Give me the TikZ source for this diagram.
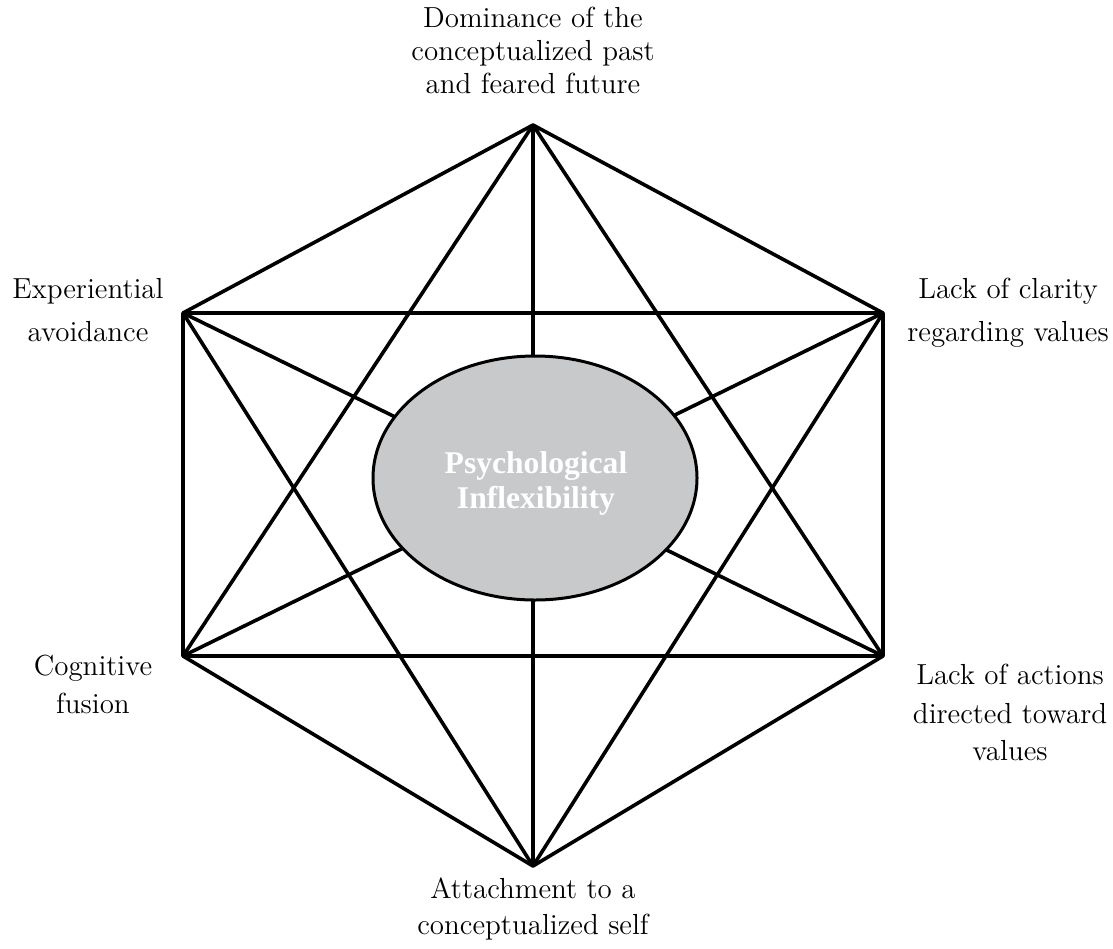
\documentclass[tikz,border=0pt]{standalone}
\usepackage{fontspec}
\usetikzlibrary{shapes.geometric}
\newfontfamily\centerfont{Liberation Serif}
\definecolor{ellgray}{RGB}{200,201,203}
\begin{document}
\begin{tikzpicture}[x=0.5pt,y=-0.5pt,
  edge/.style={line width=1.8pt,line join=round},
  lab/.style={anchor=base,font=\fontsize{14.5}{19}\selectfont,inner sep=0pt},
  ctext/.style={anchor=base,text=white,inner sep=0pt,font=\centerfont\bfseries\fontsize{15.8}{19}\selectfont}]
\useasboundingbox (0,0) rectangle (1113,948);
\coordinate (T) at (533,125);
\coordinate (UL) at (183,313);
\coordinate (UR) at (883,313);
\coordinate (LL) at (183,656);
\coordinate (LR) at (883,656);
\coordinate (B) at (533,866);
% hexagon
\draw[edge] (T) -- (UR) -- (LR) -- (B) -- (LL) -- (UL) -- cycle;
% horizontals
\draw[edge] (UL) -- (UR);
\draw[edge] (LL) -- (LR);
% star triangles
\draw[edge] (T) -- (LL);
\draw[edge] (T) -- (LR);
\draw[edge] (UL) -- (B);
\draw[edge] (UR) -- (B);
% long diagonals
\draw[edge] (T) -- (B);
\draw[edge] (UL) -- (LR);
\draw[edge] (UR) -- (LL);
% centre
\node[ellipse,draw,line width=1.5pt,fill=ellgray,minimum width=162pt,minimum height=122pt,inner sep=0pt] (C) at (535,478) {};
\node[ctext] (C1) at (536,473) {Psychological};
\node[ctext] (C2) at (536,508) {Inflexibility};
% labels
\node[lab] (LT1) at (533,27) {Dominance of the};
\node[lab] (LT2) at (533,60) {conceptualized past};
\node[lab] (LT3) at (533,93) {and feared future};
\node[lab] (LUL1) at (88,298) {Experiential};
\node[lab] (LUL2) at (88,341) {avoidance};
\node[lab] (LUR1) at (1008,298) {Lack of clarity};
\node[lab] (LUR2) at (1008,341) {regarding values};
\node[lab] (LLL1) at (93,675) {Cognitive};
\node[lab] (LLL2) at (93,713) {fusion};
\node[lab] (LLR1) at (1010,684) {Lack of actions};
\node[lab] (LLR2) at (1010,723) {directed toward};
\node[lab] (LLR3) at (1010,760) {values};
\node[lab] (LB1) at (533,898) {Attachment to a};
\node[lab] (LB2) at (533,934) {conceptualized self};
\end{tikzpicture}
\end{document}
